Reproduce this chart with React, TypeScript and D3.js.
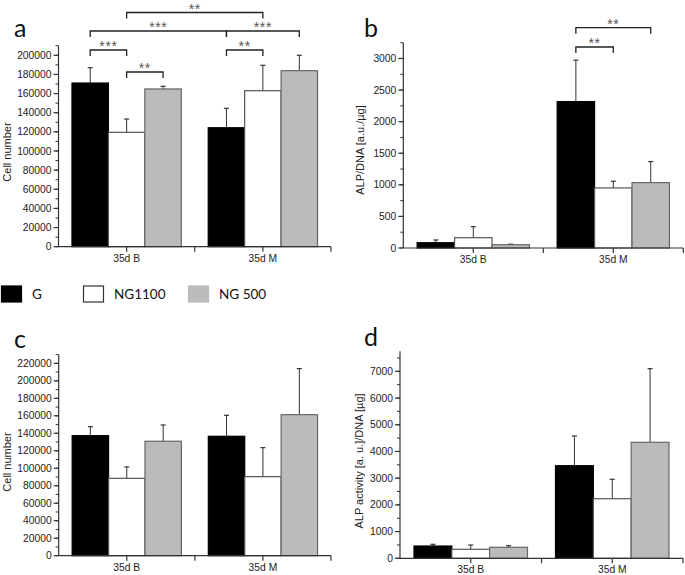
import React from 'react'
import * as d3 from 'd3'

// categories and groups
const categories = ['35d B', '35d M']
const series = ['G', 'NG1100', 'NG 500']

// panel a: cell number (mean / sd), rows = category, cols = series
const aMeans = [[171000, 119500, 164800], [124300, 163000, 183900]]
const aSd = [[16000, 13900, 2800], [20300, 26500, 16100]]
// panel b: ALP/DNA
const bMeans = [[84, 163, 52], [2318, 951, 1035]]
const bSd = [[43, 175, 8], [656, 106, 333]]
// panel c: cell number
const cMeans = [[137300, 88500, 130900], [136600, 90400, 161300]]
const cSd = [[10300, 13000, 18600], [24000, 33200, 52700]]
// panel d: ALP activity
const dMeans = [[460, 337, 412], [3467, 2231, 4343]]
const dSd = [[64, 161, 60], [1112, 727, 2756]]

// significance brackets: [category, series] -> [category, series]
const aSig = [
  { from: [0, 0], to: [0, 1], label: '***' },
  { from: [0, 1], to: [0, 2], label: '**' },
  { from: [0, 0], to: [1, 0], label: '***' },
  { from: [0, 1], to: [1, 1], label: '**' },
  { from: [1, 0], to: [1, 2], label: '***' },
  { from: [1, 0], to: [1, 1], label: '**' },
]
const bSig = [
  { from: [1, 0], to: [1, 1], label: '**' },
  { from: [1, 0], to: [1, 2], label: '**' },
]

const fills = ['#000000', '#ffffff', '#bbbbbb']
const strokes = ['#000000', '#555555', '#666666']

const tickFont = "'Liberation Sans', Arial, sans-serif"
const letterFont = "Lato, 'Open Sans', sans-serif"

function Panel(props: any) {
  const { letter, means, sd, yMax, yTicks, minorStep, x0, x1, y0, y1,
    yLabel, labelX, labelY, sig, sigY, letterX, letterY } = props

  const x = d3.scaleBand().domain(categories).range([x0, x1])
  const inner = d3.scaleBand().domain(series).range([0, x.bandwidth()]).paddingOuter(0.37)
  const y = d3.scaleLinear().domain([0, yMax]).range([y0, y1])
  const minor = d3.range(0, yMax + 1, minorStep)
  const axisColor = '#333'

  const barX = (c: number, s: number) => (x(categories[c]) as number) + (inner(series[s]) as number)
  const barMid = (c: number, s: number) => barX(c, s) + inner.bandwidth() / 2

  const xTicks = [0.5, 1, 1.5, 2].map(f => x0 + f * x.bandwidth())

  return (
    <g>
      <text x={letterX} y={letterY} fontFamily={letterFont} fontSize={25} fill="#111">{letter}</text>
      {/* bars */}
      {means.map((row: number[], c: number) => row.map((v: number, s: number) => (
        <g key={c + '-' + s}>
          <line x1={barMid(c, s)} x2={barMid(c, s)} y1={y(v)} y2={y(v + sd[c][s])} stroke="#333" strokeWidth={1} />
          <line x1={barMid(c, s) - 2.5} x2={barMid(c, s) + 2.5} y1={y(v + sd[c][s])} y2={y(v + sd[c][s])} stroke="#333" strokeWidth={1.2} />
          <rect x={barX(c, s)} y={y(v)} width={inner.bandwidth()} height={y0 - y(v)}
            fill={fills[s]} stroke={strokes[s]} strokeWidth={1.2} />
        </g>
      )))}
      {/* y axis */}
      <line x1={x0} x2={x0} y1={y0} y2={y1} stroke={axisColor} strokeWidth={1.2} />
      {minor.map((t: number) => (
        <line key={'m' + t} x1={x0 - 3} x2={x0} y1={y(t)} y2={y(t)} stroke={axisColor} strokeWidth={1} />
      ))}
      {yTicks.map((t: number) => (
        <g key={'t' + t}>
          <line x1={x0 - 5} x2={x0} y1={y(t)} y2={y(t)} stroke={axisColor} strokeWidth={1.2} />
          <text x={x0 - 7} y={y(t)} dy="0.35em" textAnchor="end" fontFamily={tickFont} fontSize={10.3} fill="#222">{t}</text>
        </g>
      ))}
      {/* x axis */}
      <line x1={x0} x2={x1} y1={y0} y2={y0} stroke={axisColor} strokeWidth={1.2} />
      {xTicks.map((t: number) => (
        <line key={'x' + t} x1={t} x2={t} y1={y0} y2={y0 + 5} stroke={axisColor} strokeWidth={1.2} />
      ))}
      {categories.map(c => (
        <text key={c} x={(x(c) as number) + x.bandwidth() / 2} y={y0 + 15} textAnchor="middle"
          fontFamily={tickFont} fontSize={10.3} fill="#222">{c}</text>
      ))}
      <text transform={`translate(${labelX},${labelY}) rotate(-90)`} textAnchor="middle"
        fontFamily={tickFont} fontSize={11} fill="#222">{yLabel}</text>
      {/* significance */}
      {(sig || []).map((b: any, i: number) => {
        const xa = barMid(b.from[0], b.from[1])
        const xb = barMid(b.to[0], b.to[1])
        const yy = sigY[i]
        return (
          <g key={'s' + i}>
            <path d={`M${xa},${yy + 6}V${yy}H${xb}V${yy + 6}`} fill="none" stroke="#222" strokeWidth={1.3} />
            <text x={(xa + xb) / 2} y={yy + 1} textAnchor="middle" fontFamily={tickFont} fontSize={14}
              letterSpacing={0.6} fill="#555">{b.label}</text>
          </g>
        )
      })}
    </g>
  )
}

export default function App() {
  const legendX = [1, 83, 188]
  return (
    <svg width={685} height={575} style={{ position: 'absolute', left: 0, top: 0, background: '#fff' }}>
      <Panel letter="a" means={aMeans} sd={aSd} yMax={210000} yTicks={d3.range(0, 200001, 20000)} minorStep={10000}
        x0={58.5} x1={331} y0={246.7} y1={45.7} yLabel="Cell number" labelX={11} labelY={152}
        sig={aSig} sigY={[50, 72, 31, 12.5, 31, 50]} letterX={14} letterY={37} />
      <Panel letter="b" means={bMeans} sd={bSd} yMax={3250} yTicks={d3.range(0, 3001, 500)} minorStep={250}
        x0={403.3} x1={683.3} y0={248} y1={42.7} yLabel="ALP/DNA [a.u./µg]" labelX={364} labelY={150}
        sig={bSig} sigY={[47, 27.7]} letterX={364} letterY={37} />
      <Panel letter="c" means={cMeans} sd={cSd} yMax={230000} yTicks={d3.range(0, 220001, 20000)} minorStep={10000}
        x0={58.7} x1={331} y0={555.7} y1={354.6} yLabel="Cell number" labelX={11} labelY={462}
        letterX={14} letterY={348} />
      <Panel letter="d" means={dMeans} sd={dSd} yMax={7750} yTicks={d3.range(0, 7001, 1000)} minorStep={500}
        x0={400} x1={683} y0={558.3} y1={351.3} yLabel="ALP activity [a. u.]/DNA [µg]" labelX={363} labelY={461}
        letterX={364} letterY={346} />
      {series.map((s, i) => (
        <g key={s}>
          <rect x={legendX[i] + 0.5} y={286} width={20} height={16} fill={fills[i]}
            stroke={i === 1 ? '#333' : fills[i]} strokeWidth={1.2} />
          <text x={legendX[i] + 31} y={299} fontFamily={letterFont} fontSize={13.5} fill="#111">{s}</text>
        </g>
      ))}
    </svg>
  )
}
